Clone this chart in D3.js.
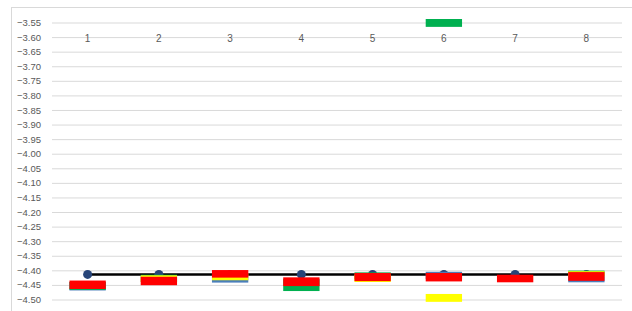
<!DOCTYPE html>
<html>
<head>
<meta charset="utf-8">
<script src="https://cdn.jsdelivr.net/npm/d3@7"></script>
<style>
  body { margin: 0; background: #fff; }
  text { font-family: "Liberation Sans", Arial, sans-serif; }
</style>
</head>
<body>
<div id="chart"></div>
<script>
const width = 632;
const height = 311;

// categories and tick labels
const categories = ['1', '2', '3', '4', '5', '6', '7', '8'];
const yTicks = [-3.55, -3.60, -3.65, -3.70, -3.75, -3.80, -3.85, -3.90, -3.95, -4.00,
  -4.05, -4.10, -4.15, -4.20, -4.25, -4.30, -4.35, -4.40, -4.45, -4.50];

// line series (black line with markers)
const lineValues = [-4.414, -4.414, -4.414, -4.414, -4.414, -4.414, -4.414, -4.414];

// floating bars, [high, low] per category
const blueHigh   = [-4.440, null, -4.420, null, null, -4.405, null, -4.420];
const blueLow    = [-4.469, null, -4.442, null, null, -4.430, null, -4.441];
const greenHigh  = [-4.440, -4.415, null, -4.430, -4.407, -3.538, null, -4.401];
const greenLow   = [-4.467, -4.440, null, -4.471, -4.430, -3.565, null, -4.420];
const yellowHigh = [null, -4.417, -4.410, null, -4.415, -4.481, null, -4.403];
const yellowLow  = [null, -4.440, -4.434, null, -4.440, -4.508, null, -4.420];
const redHigh    = [-4.435, -4.422, -4.399, -4.424, -4.409, -4.409, -4.415, -4.406];
const redLow     = [-4.464, -4.451, -4.425, -4.454, -4.437, -4.438, -4.441, -4.436];

const series = [
  { color: '#4A7EBB', high: blueHigh, low: blueLow },
  { color: '#00B050', high: greenHigh, low: greenLow },
  { color: '#FFFF00', high: yellowHigh, low: yellowLow },
  { color: '#FF0000', high: redHigh, low: redLow }
];

const plot = { left: 52, right: 622, top: 22.5, bottom: 299.5 };

const svg = d3.select('#chart').append('svg')
  .attr('width', width)
  .attr('height', height);

// chart border
svg.append('rect')
  .attr('x', 11.5).attr('y', 7.5)
  .attr('width', 640).attr('height', 320)
  .attr('fill', 'none')
  .attr('stroke', '#D9D9D9');

const x = d3.scaleBand().domain(categories).range([plot.left, plot.right]).padding(0);
const y = d3.scaleLinear().domain([-4.5, -3.55]).range([plot.bottom, plot.top]);
const barW = x.bandwidth() * 0.51;

// gridlines + y labels
const yAxis = d3.axisLeft(y)
  .tickValues(yTicks)
  .tickSize(-(plot.right - plot.left))
  .tickPadding(10)
  .tickFormat(d3.format('.2f'));
const gy = svg.append('g')
  .attr('transform', `translate(${plot.left},0)`)
  .call(yAxis);
gy.select('.domain').remove();
gy.selectAll('.tick line').attr('stroke', '#D9D9D9');
gy.selectAll('.tick text')
  .attr('fill', '#595959')
  .style('font-size', '9.5px')
  .attr('x', -11);

// category labels sit on the -3.60 line
svg.append('g').selectAll('text')
  .data(categories)
  .enter().append('text')
  .attr('x', d => x(d) + x.bandwidth() / 2)
  .attr('y', y(-3.60) + 4.5)
  .attr('text-anchor', 'middle')
  .attr('fill', '#595959')
  .style('font-size', '10px')
  .text(d => d);

// black line
const line = d3.line()
  .x((d, i) => x(categories[i]) + x.bandwidth() / 2)
  .y(d => y(d));
svg.append('path')
  .datum(lineValues)
  .attr('d', line)
  .attr('fill', 'none')
  .attr('stroke', '#000')
  .attr('stroke-width', 2.5);

svg.append('g').selectAll('circle')
  .data(lineValues)
  .enter().append('circle')
  .attr('cx', (d, i) => x(categories[i]) + x.bandwidth() / 2)
  .attr('cy', d => y(d))
  .attr('r', 4.5)
  .attr('fill', '#264478');

// floating bars, red last so it is on top
series.forEach(s => {
  const rows = categories.map((c, i) => ({ c: c, hi: s.high[i], lo: s.low[i] }))
    .filter(d => d.hi != null);
  svg.append('g').selectAll('rect')
    .data(rows)
    .enter().append('rect')
    .attr('x', d => x(d.c) + x.bandwidth() / 2 - barW / 2)
    .attr('y', d => y(d.hi))
    .attr('width', barW)
    .attr('height', d => y(d.lo) - y(d.hi))
    .attr('fill', s.color);
});
</script>
</body>
</html>
